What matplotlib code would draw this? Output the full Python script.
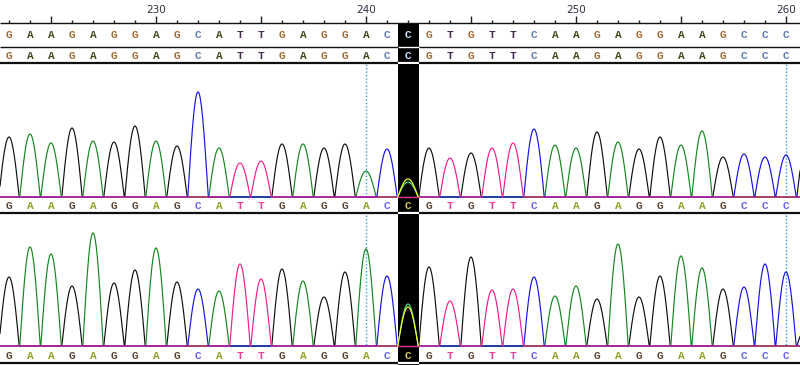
import numpy as np
import matplotlib.pyplot as plt

# ---- data ----
positions = list(range(223, 262))
bases = list("GAAGAGGAGCATTGAGGACCGTGTTCAAGAGGAAGCCCG")
top_heights = [60, 63, 54, 69, 56, 55, 71, 56, 51, 105, 49, 34, 36, 53, 53, 49, 53, 26, 48, 18,
               49, 39, 44, 49, 54, 68, 52, 49, 65, 55, 48, 60, 52, 66, 40, 43, 40, 42, 55]
bot_heights = [69, 99, 92, 60, 113, 63, 76, 98, 64, 57, 55, 82, 67, 77, 65, 49, 74, 97, 70, 39,
               79, 45, 89, 56, 57, 69, 50, 60, 47, 102, 49, 70, 90, 78, 57, 59, 82, 74, 20]
# mixed call at 242: second (A) peak
mixed_pos = 242
mixed_base = "A"
mixed_top = 15
mixed_bot = 42
marker_lines = [240, 260]
ruler_labels = [230, 240, 250, 260]
last_shown = 260

# ---- styling ----
W, H = 800, 365
px0 = 9  # pixel of first base
step = 21  # pixels per base
xmin = positions[0] - px0 / step
xmax = positions[0] + (W - px0) / step
half_w = 10.2 / step  # half base width of one peak

trace_col = {"A": "#14881e", "C": "#1414e6", "G": "#101010", "T": "#f01e8c"}
inv_col = {"A": "#40e890", "C": "#ffff20", "G": "#ffffff", "T": "#f01e8c"}
row_col = {"A": "#3c4a1c", "C": "#5c7cb4", "G": "#a06a30", "T": "#462c50"}
lab_col = {"A": "#8aa424", "C": "#6464ee", "G": "#5a4430", "T": "#f03c96"}

fig = plt.figure(figsize=(W / 100, H / 100), dpi=100)
fig.patch.set_facecolor("white")


def pix_axes(y0, y1, z=1):
    a = fig.add_axes([0, 1 - y1 / H, 1, (y1 - y0) / H], zorder=z)
    a.set_xlim(xmin, xmax)
    a.axis("off")
    a.patch.set_alpha(0)
    return a


def peak(x, p, h):
    d = np.clip(np.abs(x - p) / half_w, 0, 1)
    return h * np.cos(d * np.pi / 2)


# background axes in pixel y units
ax = pix_axes(0, H, z=0)
ax.set_ylim(H, 0)

hl0, hl1 = mixed_pos - 0.5, mixed_pos + 0.5
ax.add_patch(plt.Rectangle((hl0, 24), 1, H - 24, color="black", lw=0, zorder=3))

# ruler
for p in positions:
    if p > last_shown:
        continue
    top = 16 if p % 5 == 0 else 20
    ax.vlines(p, top, 23, color="#202020", lw=1, zorder=2)
for p in ruler_labels:
    ax.text(p, 10, str(p), ha="center", va="center", fontsize=7.5,
            color="#303040", family="DejaVu Sans")

# horizontal rules (white inside the highlight)
for y, lw in [(23, 1.0), (47, 1.0), (63, 1.6), (213, 1.6), (363, 1.6)]:
    ax.hlines(y, xmin, xmax, color="#101010", lw=lw, zorder=2)
    if y > 24:
        ax.hlines(y, hl0, hl1, color="white", lw=lw, zorder=4)

# dotted markers
for p in marker_lines:
    ax.vlines(p, 64, 197, color="#2a9ee0", lw=1, linestyles=(0, (1, 1.5)), zorder=1)
    ax.vlines(p, 215, 346, color="#2a9ee0", lw=1, linestyles=(0, (1, 1.5)), zorder=1)

# base letter rows
for p, b in zip(positions, bases):
    if p > last_shown:
        continue
    inside = p == mixed_pos
    for y in (35, 56):
        ax.text(p, y, b, ha="center", va="center", fontsize=8, fontweight="bold",
                family="Liberation Mono", color="#c8e0ff" if inside else row_col[b], zorder=5)
    for y in (206, 356):
        ax.text(p, y, b, ha="center", va="center", fontsize=8, fontweight="bold",
                family="Liberation Mono", color="#d8c850" if inside else lab_col[b], zorder=5)


def draw_trace(y0, y1, base_y, heights, mix_h):
    a = pix_axes(y0, y1, z=2)
    a.set_ylim(-(y1 - base_y), base_y - y0)
    a.add_patch(plt.Rectangle((hl0, -10), 1, 400, color="black", lw=0, zorder=3))
    x = np.linspace(xmin, xmax, 3000)
    for ch in ["G", "A", "C", "T"]:
        sig = np.zeros_like(x)
        for p, b, h in zip(positions, bases, heights):
            if b == ch:
                sig += peak(x, p, h)
        if ch == mixed_base:
            sig += peak(x, mixed_pos, mix_h)
        a.plot(x, sig, color=trace_col[ch], lw=0.85, zorder=2)
        m = (x >= hl0) & (x <= hl1)
        a.plot(x[m], sig[m], color=inv_col[ch], lw=0.85, zorder=4)
    return a


draw_trace(64, 199, 197, top_heights, mixed_top)
draw_trace(214, 348, 346, bot_heights, mixed_bot)

fig.savefig("out.png", dpi=100)
